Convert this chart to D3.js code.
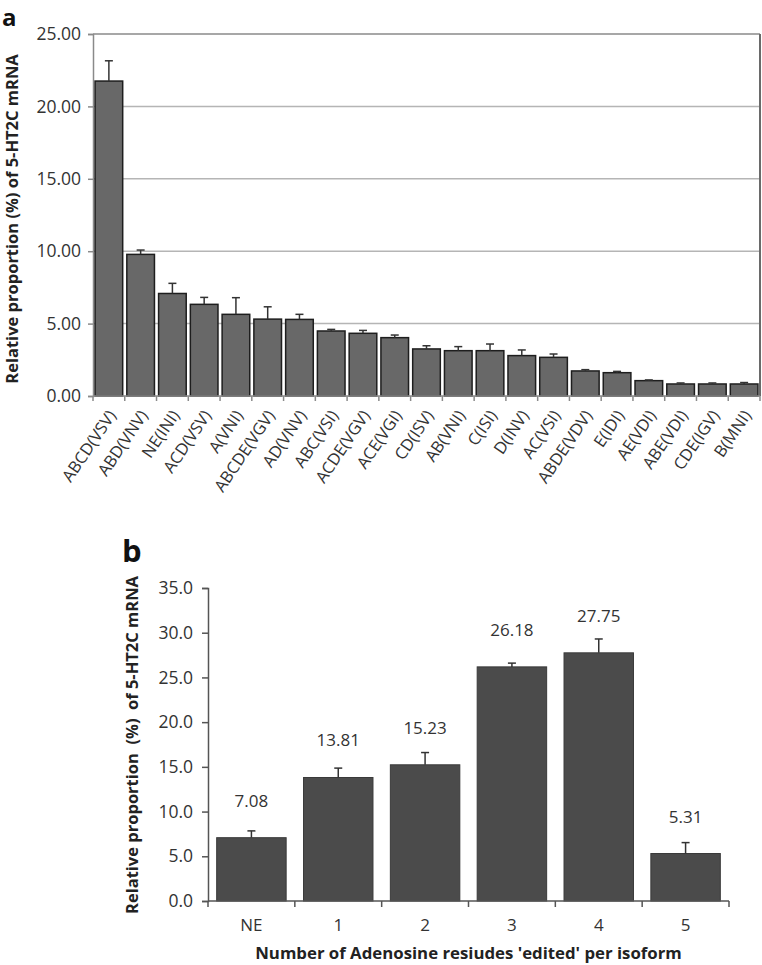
<!DOCTYPE html>
<html><head><meta charset="utf-8">
<script src="https://cdn.jsdelivr.net/npm/d3@7"></script>
<style>
html,body{margin:0;padding:0;background:#fff;}
svg{display:block;font-family:"Open Sans",sans-serif;}
</style></head>
<body><svg id="c" width="762" height="965"></svg>
<script>
// ---- Panel a data ----
const isoforms = ["ABCD(VSV)","ABD(VNV)","NE(INI)","ACD(VSV)","A(VNI)","ABCDE(VGV)","AD(VNV)","ABC(VSI)","ACDE(VGV)","ACE(VGI)","CD(ISV)","AB(VNI)","C(ISI)","D(INV)","AC(VSI)","ABDE(VDV)","E(IDI)","AE(VDI)","ABE(VDI)","CDE(IGV)","B(MNI)"];
const isoformValues = [21.75,9.78,7.08,6.33,5.64,5.31,5.29,4.49,4.33,4.03,3.25,3.13,3.13,2.79,2.67,1.73,1.61,1.06,0.83,0.83,0.83];
const isoformErrors = [1.40,0.30,0.70,0.48,1.15,0.85,0.35,0.11,0.20,0.18,0.22,0.28,0.46,0.39,0.23,0.09,0.09,0.05,0.07,0.07,0.10];
const yTicksA = [0,5,10,15,20,25];

// ---- Panel b data ----
const editCounts = ["NE","1","2","3","4","5"];
const editValues = [7.08,13.81,15.23,26.18,27.75,5.31];
const editErrors = [0.76,1.05,1.37,0.42,1.55,1.22];
const yTicksB = [0,5,10,15,20,25,30,35];

const svg = d3.select("#c");

// ================= Panel a =================
{
  const L=93, R=760, T=34, B=396;
  const x = d3.scaleBand().domain(isoforms).range([L,R]).paddingInner(0.13).paddingOuter(0.065);
  const xb = d3.scaleBand().domain(isoforms).range([L,R]);
  const y = d3.scaleLinear().domain([0,25]).range([B,T]);
  const g = svg.append("g");

  g.selectAll("line.grid").data(yTicksA.filter(d=>d>0 && d<25)).join("line")
    .attr("x1",L).attr("x2",R).attr("y1",d=>y(d)).attr("y2",d=>y(d))
    .attr("stroke","#b5b5b5").attr("stroke-width",1.5);
  g.append("line").attr("x1",L).attr("x2",R).attr("y1",y(25)).attr("y2",y(25)).attr("stroke","#8a8a8a").attr("stroke-width",1.5);
  g.append("line").attr("x1",R).attr("x2",R).attr("y1",T).attr("y2",B).attr("stroke","#6a6a6a").attr("stroke-width",2);

  const ya = g.append("g").attr("transform",`translate(${L},0)`)
    .call(d3.axisLeft(y).tickValues(yTicksA).tickFormat(d3.format(".2f")).tickSize(5).tickPadding(7));
  ya.select(".domain").attr("stroke","#8a8a8a").attr("stroke-width",1.5);
  ya.selectAll(".tick line").attr("stroke","#8a8a8a").attr("stroke-width",1.5);
  ya.selectAll("text").attr("font-size",17.5).attr("fill","#333").attr("font-family","Open Sans");

  g.selectAll("rect.bar").data(isoformValues).join("rect")
    .attr("x",(d,i)=>x(isoforms[i])).attr("width",x.bandwidth())
    .attr("y",d=>y(d)).attr("height",d=>y(0)-y(d))
    .attr("fill","#686868").attr("stroke","#1e1e1e").attr("stroke-width",1.5);

  const eb = g.selectAll("g.err").data(isoformValues).join("g");
  eb.append("line").attr("x1",(d,i)=>x(isoforms[i])+x.bandwidth()/2).attr("x2",(d,i)=>x(isoforms[i])+x.bandwidth()/2)
    .attr("y1",d=>y(d)).attr("y2",(d,i)=>y(d+isoformErrors[i])).attr("stroke","#333").attr("stroke-width",1.5);
  eb.append("line").attr("x1",(d,i)=>x(isoforms[i])+x.bandwidth()/2-4).attr("x2",(d,i)=>x(isoforms[i])+x.bandwidth()/2+4)
    .attr("y1",(d,i)=>y(d+isoformErrors[i])).attr("y2",(d,i)=>y(d+isoformErrors[i])).attr("stroke","#333").attr("stroke-width",1.5);

  g.append("line").attr("x1",L).attr("x2",R).attr("y1",B).attr("y2",B).attr("stroke","#8a8a8a").attr("stroke-width",1.5);
  g.selectAll("line.xt").data(d3.range(isoforms.length+1)).join("line")
    .attr("x1",i=>L+i*xb.step()).attr("x2",i=>L+i*xb.step()).attr("y1",B).attr("y2",B+5)
    .attr("stroke","#8a8a8a").attr("stroke-width",1.5);
  g.selectAll("text.xl").data(isoforms).join("text")
    .attr("transform",d=>`translate(${xb(d)+xb.bandwidth()/2+3},${B+16}) rotate(-56)`)
    .attr("text-anchor","end").attr("dy","0.35em")
    .attr("font-size",16.5).attr("fill","#333").text(d=>d);

  g.append("text").attr("transform",`translate(${18},${219}) rotate(-90)`)
    .attr("text-anchor","middle").attr("font-weight","bold").attr("font-size",16.5).attr("fill","#222")
    .text("Relative proportion (%) of 5-HT2C mRNA");

  svg.append("text").attr("x",2).attr("y",26).attr("font-weight","bold").attr("font-size",24).attr("fill","#111").text("a");
}

// ================= Panel b =================
{
  const L=208, R=729, T=588, B=901;
  const x = d3.scaleBand().domain(editCounts).range([L,R]).paddingInner(0.2).paddingOuter(0.1);
  const xb = d3.scaleBand().domain(editCounts).range([L,R]);
  const y = d3.scaleLinear().domain([0,35]).range([B,T]);
  const g = svg.append("g");

  const ya = g.append("g").attr("transform",`translate(${L},0)`)
    .call(d3.axisLeft(y).tickValues(yTicksB).tickFormat(d3.format(".1f")).tickSize(6).tickPadding(9));
  ya.select(".domain").attr("stroke","#555").attr("stroke-width",1.5);
  ya.selectAll(".tick line").attr("stroke","#555").attr("stroke-width",1.5);
  ya.selectAll("text").attr("font-size",17.5).attr("fill","#333").attr("font-family","Open Sans");

  g.selectAll("rect.bar").data(editValues).join("rect")
    .attr("x",(d,i)=>x(editCounts[i])).attr("width",x.bandwidth())
    .attr("y",d=>y(d)).attr("height",d=>y(0)-y(d))
    .attr("fill","#4b4b4b").attr("stroke","#3a3a3a").attr("stroke-width",1);

  const eb = g.selectAll("g.err").data(editValues).join("g");
  eb.append("line").attr("x1",(d,i)=>x(editCounts[i])+x.bandwidth()/2).attr("x2",(d,i)=>x(editCounts[i])+x.bandwidth()/2)
    .attr("y1",d=>y(d)).attr("y2",(d,i)=>y(d+editErrors[i])).attr("stroke","#333").attr("stroke-width",1.5);
  eb.append("line").attr("x1",(d,i)=>x(editCounts[i])+x.bandwidth()/2-4).attr("x2",(d,i)=>x(editCounts[i])+x.bandwidth()/2+4)
    .attr("y1",(d,i)=>y(d+editErrors[i])).attr("y2",(d,i)=>y(d+editErrors[i])).attr("stroke","#333").attr("stroke-width",1.5);

  g.selectAll("text.val").data(editValues).join("text")
    .attr("x",(d,i)=>x(editCounts[i])+x.bandwidth()/2).attr("y",d=>y(d)-31)
    .attr("text-anchor","middle").attr("font-size",17).attr("fill","#333").text(d=>d.toFixed(2));

  g.append("line").attr("x1",L).attr("x2",R).attr("y1",B).attr("y2",B).attr("stroke","#555").attr("stroke-width",1.5);
  g.selectAll("line.xt").data(d3.range(editCounts.length+1)).join("line")
    .attr("x1",i=>L+i*xb.step()).attr("x2",i=>L+i*xb.step()).attr("y1",B).attr("y2",B+6)
    .attr("stroke","#555").attr("stroke-width",1.5);
  g.selectAll("text.xl").data(editCounts).join("text")
    .attr("x",d=>xb(d)+xb.bandwidth()/2).attr("y",B+30)
    .attr("text-anchor","middle").attr("font-size",17).attr("fill","#333").text(d=>d);

  g.append("text").attr("x",(L+R)/2).attr("y",959).attr("text-anchor","middle")
    .attr("font-weight","bold").attr("font-size",16.8).attr("fill","#222")
    .text("Number of Adenosine resiudes 'edited' per isoform");

  g.append("text").attr("transform",`translate(${138},${745}) rotate(-90)`)
    .attr("text-anchor","middle").attr("font-weight","bold").attr("font-size",16.5).attr("fill","#222")
    .attr("xml:space","preserve").style("white-space","pre")
    .text("Relative proportion  (%)  of 5-HT2C mRNA");

  svg.append("text").attr("x",122).attr("y",562).attr("font-weight","bold").attr("font-size",31).attr("fill","#111").text("b");
}
</script></body></html>
